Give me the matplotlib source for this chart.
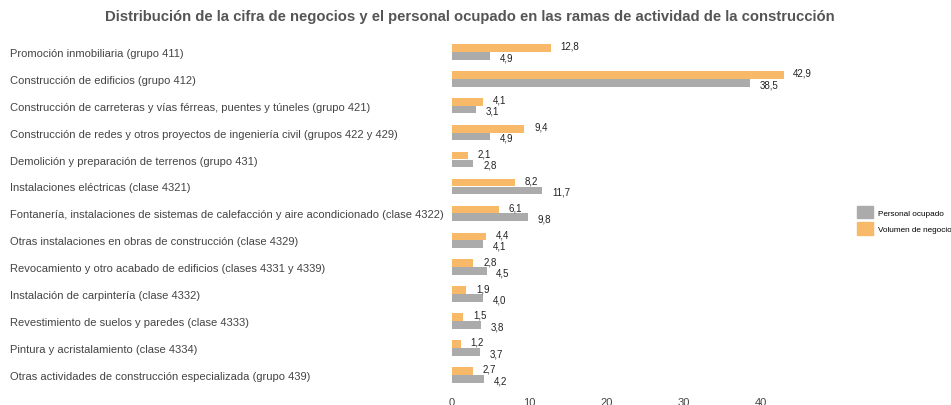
import numpy as np
import matplotlib.pyplot as plt
from matplotlib.patches import Patch

plt.rcParams['font.family'] = ['Liberation Sans', 'DejaVu Sans']

# Ramas de actividad (de arriba a abajo)
ramas = [
    'Promoción inmobiliaria (grupo 411)',
    'Construcción de edificios (grupo 412)',
    'Construcción de carreteras y vías férreas, puentes y túneles (grupo 421)',
    'Construcción de redes y otros proyectos de ingeniería civil (grupos 422 y 429)',
    'Demolición y preparación de terrenos (grupo 431)',
    'Instalaciones eléctricas (clase 4321)',
    'Fontanería, instalaciones de sistemas de calefacción y aire acondicionado (clase 4322)',
    'Otras instalaciones en obras de construcción (clase 4329)',
    'Revocamiento y otro acabado de edificios (clases 4331 y 4339)',
    'Instalación de carpintería (clase 4332)',
    'Revestimiento de suelos y paredes (clase 4333)',
    'Pintura y acristalamiento (clase 4334)',
    'Otras actividades de construcción especializada (grupo 439)',
]
volumen = [12.8, 42.9, 4.1, 9.4, 2.1, 8.2, 6.1, 4.4, 2.8, 1.9, 1.5, 1.2, 2.7]
personal = [4.9, 38.5, 3.1, 4.9, 2.8, 11.7, 9.8, 4.1, 4.5, 4.0, 3.8, 3.7, 4.2]
xticks = [0, 10, 20, 30, 40]

c_vol = '#F8B968'
c_per = '#ABABAB'

fig = plt.figure(figsize=(9.51, 4.06), dpi=100)
ax = fig.add_axes([0.475, 0.041, 0.366, 0.862])

y = np.arange(len(ramas))
h = 0.285
off = 0.145
ax.barh(y - off, volumen, height=h, color=c_vol)
ax.barh(y + off, personal, height=h, color=c_per)

def fmt(v):
    return f'{v:.1f}'.replace('.', ',')

for yi, v in zip(y, volumen):
    ax.annotate(fmt(v), (v, yi - off - 0.08), xytext=(7, 0), textcoords='offset points',
                ha='left', va='center', fontsize=7, color='#222222')
for yi, v in zip(y, personal):
    ax.annotate(fmt(v), (v, yi + off + 0.05), xytext=(7, 0), textcoords='offset points',
                ha='left', va='center', fontsize=7, color='#222222')

ax.set_xlim(0, 45)
ax.set_ylim(len(ramas) - 0.5, -0.5)
ax.set_xticks(xticks)
ax.set_yticks(y)
ax.set_yticklabels(ramas, ha='left', fontsize=8, color='#444444')
ax.tick_params(axis='y', length=0, pad=318)
ax.tick_params(axis='x', length=0, pad=6, labelsize=8, labelcolor='#444444')
for s in ax.spines.values():
    s.set_visible(False)

fig.suptitle('Distribución de la cifra de negocios y el personal ocupado en las ramas de actividad de la construcción',
             x=0.4935, y=0.975, fontsize=10.7, fontweight='bold', color='#555555')

handles = [Patch(color=c_per, label='Personal ocupado'),
           Patch(color=c_vol, label='Volumen de negocio')]
fig.legend(handles=handles, loc='center left', bbox_to_anchor=(0.898, 0.455), frameon=False,
           fontsize=5.9, handlelength=1.9, handleheight=2.0, handletextpad=0.6,
           labelspacing=0.45, borderaxespad=0)

fig.savefig('out.png', dpi=100)
